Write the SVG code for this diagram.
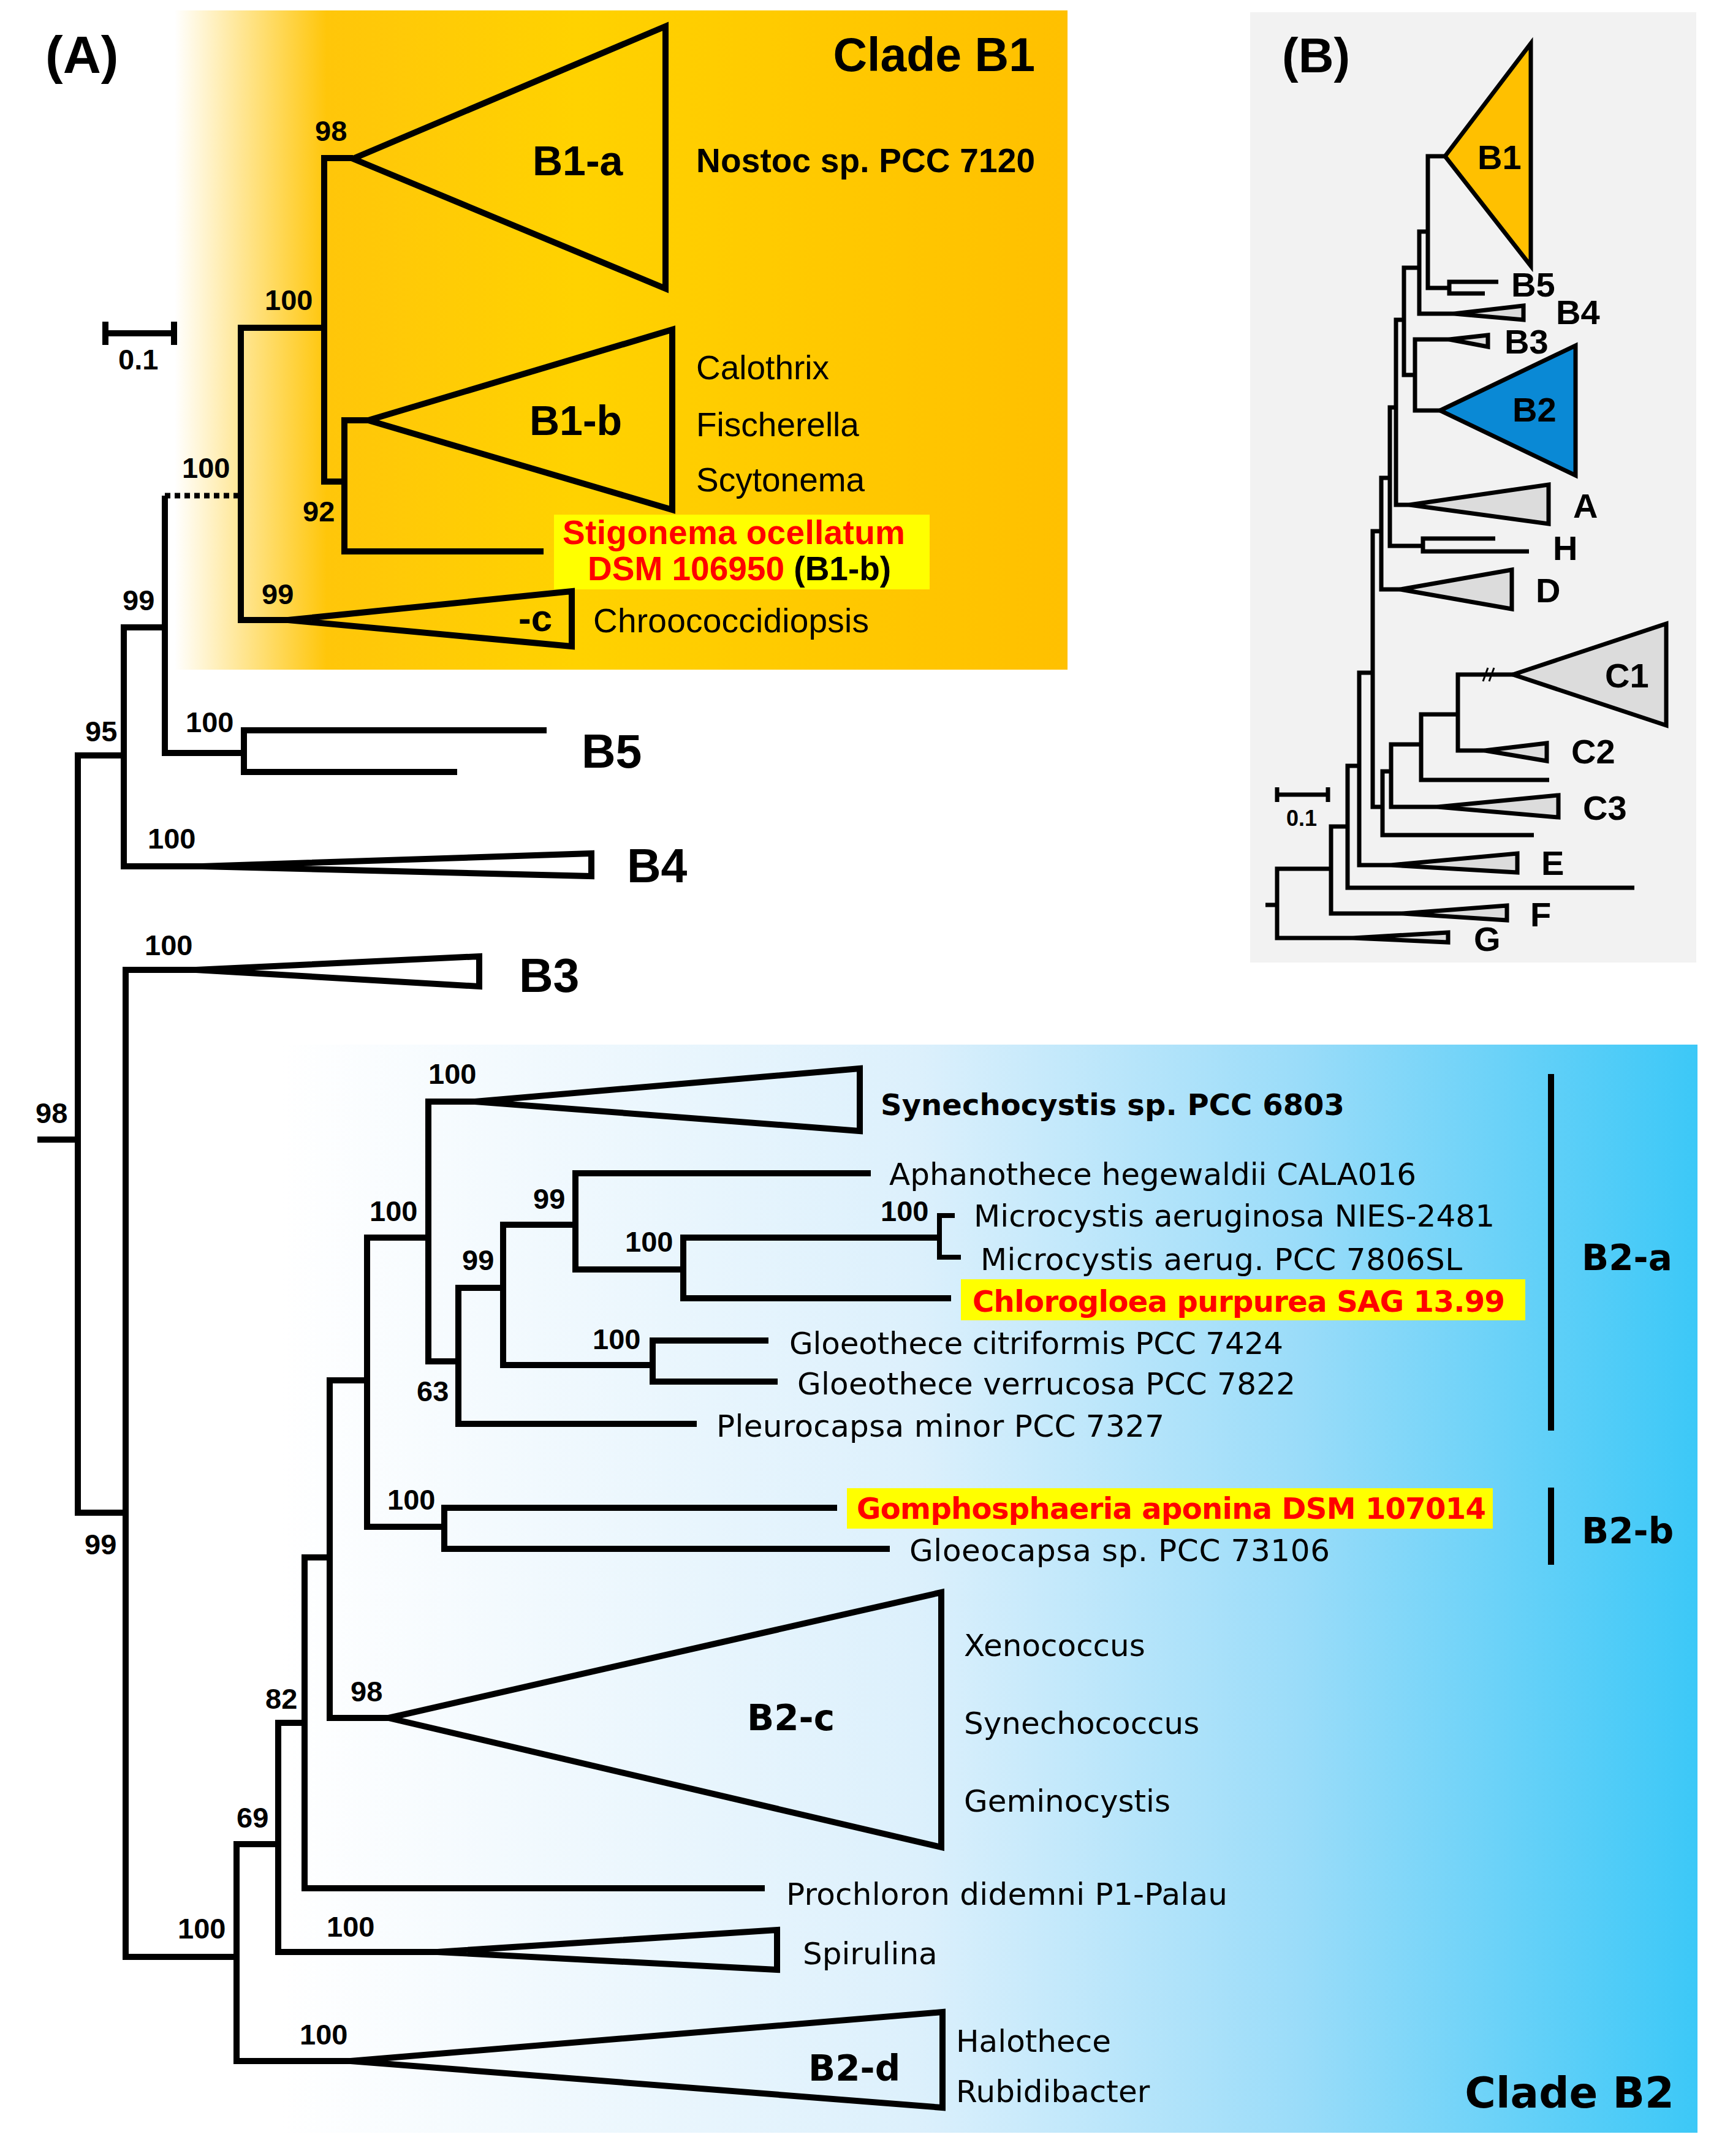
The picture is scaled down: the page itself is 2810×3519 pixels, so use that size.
<svg xmlns="http://www.w3.org/2000/svg" width="2810" height="3519" viewBox="0 0 2810 3519">
<defs>
<linearGradient id="gOr" x1="285" y1="0" x2="1742" y2="0" gradientUnits="userSpaceOnUse">
<stop offset="0" stop-color="#FFFFFF"/>
<stop offset="0.17" stop-color="#FFC60A"/>
<stop offset="0.45" stop-color="#FFD200"/>
<stop offset="1" stop-color="#FFC000"/>
</linearGradient>
<linearGradient id="gBl" x1="460" y1="0" x2="2770" y2="0" gradientUnits="userSpaceOnUse">
<stop offset="0" stop-color="#FFFFFF"/>
<stop offset="0.45" stop-color="#DCF0FC"/>
<stop offset="0.72" stop-color="#9ADCF9"/>
<stop offset="1" stop-color="#3CC8F7"/>
</linearGradient>
<style>
.br{fill:none;stroke:#000;stroke-width:10;stroke-linejoin:miter}
.thin{stroke-width:8}
.tri{fill:none;stroke:#000;stroke-width:10;stroke-linejoin:miter}
.bb{fill:none;stroke:#000;stroke-width:7;stroke-linejoin:miter}
.tb{stroke:#000;stroke-width:7;stroke-linejoin:miter}
.num{font-family:"Liberation Sans",Arial,sans-serif;font-weight:bold;font-size:47px;fill:#000}
.ta{font-family:"Liberation Sans",Arial,sans-serif;font-size:55px;fill:#000}
.tab{font-family:"Liberation Sans",Arial,sans-serif;font-weight:bold;font-size:55px;fill:#000}
.dashc{font-family:"Liberation Sans",Arial,sans-serif;font-weight:bold;font-size:62px;fill:#000}
.big{font-family:"Liberation Sans",Arial,sans-serif;font-weight:bold;font-size:77px;fill:#000}
.cl{font-family:"Liberation Sans",Arial,sans-serif;font-weight:bold;font-size:68px;fill:#000}
.tv{font-family:"DejaVu Sans",Verdana,sans-serif;font-size:50px;fill:#000}
.tvb{font-family:"DejaVu Sans",Verdana,sans-serif;font-weight:bold;font-size:48px;fill:#000}
.lv{font-family:"DejaVu Sans",Verdana,sans-serif;font-weight:bold;font-size:58px;fill:#000}
.lvc{font-family:"DejaVu Sans",Verdana,sans-serif;font-weight:bold;font-size:69px;fill:#000}
.pb{font-family:"Liberation Sans",Arial,sans-serif;font-weight:bold;font-size:56px;fill:#000}
.panel{font-family:"Liberation Sans",Arial,sans-serif;font-weight:bold;font-size:86px;fill:#000}
.panelb{font-family:"Liberation Sans",Arial,sans-serif;font-weight:bold;font-size:80px;fill:#000}
.sc{font-family:"Liberation Sans",Arial,sans-serif;font-weight:bold;font-size:36px;fill:#000}
.red{fill:#FF0000}
.hl{fill:#FFFF00}
</style>
</defs>
<rect x="0" y="0" width="2810" height="3519" fill="#FFFFFF"/>

<!-- Panel A backgrounds -->
<rect id="cladeB1-bg" x="285" y="17" width="1457" height="1076" fill="url(#gOr)"/>
<rect id="cladeB2-bg" x="460" y="1705" width="2310" height="1776" fill="url(#gBl)"/>

<text x="74" y="119" class="panel">(A)</text>
<text x="1689" y="116" class="big" text-anchor="end">Clade B1</text>
<text x="2732" y="3440" class="lvc" text-anchor="end">Clade B2</text>

<!-- scale bar A -->
<g id="scaleA">
<path class="br" d="M172,544 H284 M172,525 V563 M284,525 V563"/>
<text x="193" y="603" class="num">0.1</text>
</g>

<!-- connectors panel A -->
<g id="connectors">
<path class="br" d="M61,1860 H127"/>
<path class="br" d="M202,1233 H127 V2469 H205"/>
<path class="br" d="M269,1024 H202 V1414 H330"/>
<path class="br" d="M269,809 V1229 H398"/>
<path fill="none" stroke="#000" stroke-width="9" stroke-dasharray="9,7" d="M269,809 H393"/>
<path class="br" d="M892,1192 H398 V1260 H746"/>
<path class="br" d="M529,535 H393 V1012 H470"/>
<path class="br" d="M576,258 H529 V786 H562"/>
<path class="br" d="M601,686 H562 V900 H887"/>
<path class="br" d="M320,1583 H205 V3194 H386"/>
<path class="br" d="M454,3010 H386 V3364 H572"/>
<path class="br" d="M497,2812 H454 V3186 H714"/>
<path class="br" d="M538,2542 H497 V3082 H1248"/>
<path class="br" d="M599,2253 H538 V2804 H634"/>
<path class="br" d="M699,2020 H599 V2492 H725"/>
<path class="br" d="M775,1798 H699 V2222 H748"/>
<path class="br" d="M821,2102 H748 V2324 H1137"/>
<path class="br" d="M939,1999 H821 V2228 H1065"/>
<path class="br" d="M1421,1915 H939 V2072 H1115"/>
<path class="br" d="M1533,2020 H1115 V2119 H1552"/>
<path class="br thin" d="M1558,1984 H1533 V2052 H1568"/>
<path class="br" d="M1254,2188 H1065 V2255 H1269"/>
<path class="br" d="M1366,2461 H725 V2528 H1452"/>
</g>

<!-- support values -->
<g id="supports">
<text class="num" x="514" y="230">98</text>
<text class="num" x="432" y="506">100</text>
<text class="num" x="494" y="851">92</text>
<text class="num" x="297" y="780">100</text>
<text class="num" x="427" y="986">99</text>
<text class="num" x="200" y="996">99</text>
<text class="num" x="303" y="1195">100</text>
<text class="num" x="139" y="1210">95</text>
<text class="num" x="241" y="1385">100</text>
<text class="num" x="236" y="1559">100</text>
<text class="num" x="58" y="1833">98</text>
<text class="num" x="138" y="2537">99</text>
<text class="num" x="699" y="1769">100</text>
<text class="num" x="603" y="1993">100</text>
<text class="num" x="870" y="1973">99</text>
<text class="num" x="1437" y="1993">100</text>
<text class="num" x="754" y="2073">99</text>
<text class="num" x="1020" y="2043">100</text>
<text class="num" x="967" y="2202">100</text>
<text class="num" x="680" y="2287">63</text>
<text class="num" x="632" y="2464">100</text>
<text class="num" x="572" y="2777">98</text>
<text class="num" x="433" y="2789">82</text>
<text class="num" x="386" y="2983">69</text>
<text class="num" x="533" y="3161">100</text>
<text class="num" x="290" y="3164">100</text>
<text class="num" x="489" y="3337">100</text>
</g>

<!-- Clade B1 leaves -->
<g id="B1a">
<polygon class="tri" points="576,259 1086,43 1086,471"/>
<text class="cl" x="869" y="286">B1-a</text>
<text class="tab" x="1136" y="281" textLength="553">Nostoc sp. PCC 7120</text>
</g>
<g id="B1b">
<polygon class="tri" points="601,686 1097,538 1097,832"/>
<text class="cl" x="864" y="710">B1-b</text>
<text class="ta" x="1136" y="619">Calothrix</text>
<text class="ta" x="1136" y="712">Fischerella</text>
<text class="ta" x="1136" y="802">Scytonema</text>
</g>
<g id="stigonema">
<rect class="hl" x="904" y="840" width="613" height="122"/>
<text class="tab red" x="918" y="888" textLength="559">Stigonema ocellatum</text>
<text class="tab" x="959" y="947"><tspan class="red">DSM 106950</tspan> (B1-b)</text>
</g>
<g id="B1c">
<polygon class="tri" points="470,1012 933,965 933,1055"/>
<text class="dashc" x="846" y="1030">-c</text>
<text class="ta" x="968" y="1032" textLength="450">Chroococcidiopsis</text>
</g>
<g id="B5">
<text class="big" x="949" y="1253">B5</text>
</g>
<g id="B4">
<polygon class="tri" points="330,1414 965,1393 965,1430"/>
<text class="big" x="1023" y="1440">B4</text>
</g>
<g id="B3">
<polygon class="tri" points="320,1583 782,1561 782,1610"/>
<text class="big" x="847" y="1619">B3</text>
</g>

<!-- Clade B2 leaves -->
<g id="synechocystis">
<polygon class="tri" points="775,1798 1403,1744 1403,1846"/>
<text class="tvb" x="1437" y="1820" textLength="757">Synechocystis sp. PCC 6803</text>
</g>
<g id="aphanothece"><text class="tv" x="1451" y="1934" textLength="860">Aphanothece hegewaldii CALA016</text></g>
<g id="microcystis1"><text class="tv" x="1589" y="2002" textLength="850">Microcystis aeruginosa NIES-2481</text></g>
<g id="microcystis2"><text class="tv" x="1600" y="2073" textLength="786">Microcystis aerug. PCC 7806SL</text></g>
<g id="chlorogloea">
<rect class="hl" x="1568" y="2088" width="921" height="67"/>
<text class="tvb red" x="1587" y="2141" textLength="869">Chlorogloea purpurea SAG 13.99</text>
</g>
<g id="gloeo1"><text class="tv" x="1288" y="2210" textLength="806">Gloeothece citriformis PCC 7424</text></g>
<g id="gloeo2"><text class="tv" x="1301" y="2276" textLength="813">Gloeothece verrucosa PCC 7822</text></g>
<g id="pleurocapsa"><text class="tv" x="1169" y="2345" textLength="731">Pleurocapsa minor PCC 7327</text></g>
<g id="gomphosphaeria">
<rect class="hl" x="1382" y="2429" width="1054" height="66"/>
<text class="tvb red" x="1398" y="2479" textLength="1027">Gomphosphaeria aponina DSM 107014</text>
</g>
<g id="gloeocapsa"><text class="tv" x="1484" y="2548" textLength="686">Gloeocapsa sp. PCC 73106</text></g>
<g id="B2c">
<polygon class="tri" points="634,2804 1536,2599 1536,3015"/>
<text class="lv" x="1219" y="2824">B2-c</text>
<text class="tv" x="1573" y="2703">Xenococcus</text>
<text class="tv" x="1573" y="2830">Synechococcus</text>
<text class="tv" x="1573" y="2957">Geminocystis</text>
</g>
<g id="prochloron"><text class="tv" x="1283" y="3109" textLength="720">Prochloron didemni P1-Palau</text></g>
<g id="spirulina">
<polygon class="tri" points="714,3186 1268,3150 1268,3215"/>
<text class="tv" x="1310" y="3206">Spirulina</text>
</g>
<g id="B2d">
<polygon class="tri" points="572,3364 1538,3284 1538,3440"/>
<text class="lv" x="1319" y="3396">B2-d</text>
<text class="tv" x="1560" y="3349">Halothece</text>
<text class="tv" x="1560" y="3431">Rubidibacter</text>
</g>
<g id="B2a-bar">
<path fill="none" stroke="#000" stroke-width="10" d="M2531,1753 V2335"/>
<text class="lv" x="2581" y="2073">B2-a</text>
</g>
<g id="B2b-bar">
<path fill="none" stroke="#000" stroke-width="10" d="M2531,2428 V2554"/>
<text class="lv" x="2581" y="2519">B2-b</text>
</g>

<!-- Panel B -->
<g id="panelB">
<rect x="2040" y="20" width="728" height="1551" fill="#F2F2F2"/>
<text x="2092" y="118" class="panelb">(B)</text>
<g id="connectorsB">
<path class="bb" d="M2065,1477 H2084"/>
<path class="bb" d="M2172,1418 H2084 V1531 H2208"/>
<path class="bb" d="M2199,1349 H2172 V1491 H2289"/>
<path class="bb" d="M2218,1250 H2199 V1449 H2667"/>
<path class="bb" d="M2240,1098 H2218 V1412 H2270"/>
<path class="bb" d="M2254,867 H2240 V1317 H2256"/>
<path class="bb" d="M2270,1259 H2256 V1363 H2503"/>
<path class="bb" d="M2319,1215 H2270 V1317 H2346"/>
<path class="bb" d="M2379,1166 H2319 V1273 H2528"/>
<path class="bb" d="M2469,1101 H2379 V1225 H2423"/>
<path class="bb" d="M2268,780 H2254 V962 H2285"/>
<path class="bb" d="M2278,665 H2268 V891 H2322"/>
<path class="bb" d="M2291,522 H2278 V824 H2300"/>
<path class="bb" d="M2316,437 H2291 V612 H2309"/>
<path class="bb" d="M2365,554 H2309 V670 H2350"/>
<path class="bb" d="M2330,378 H2316 V512 H2373"/>
<path class="bb" d="M2358,255 H2330 V470 H2365"/>
<path fill="none" stroke="#000" stroke-width="3" d="M2420,1112 L2428,1090 M2430,1112 L2438,1090"/>
</g>
<g id="nB1"><polygon class="tb" fill="#FFC000" points="2358,255 2498,71 2498,434"/><text class="pb" x="2411" y="276">B1</text></g>
<g id="nB5"><path class="bb" d="M2445,460 H2365 V479 H2423"/><text class="pb" x="2466" y="484">B5</text></g>
<g id="nB4"><polygon class="tb" fill="#DCDCDC" points="2373,512 2486,499 2486,522"/><text class="pb" x="2539" y="529">B4</text></g>
<g id="nB3"><polygon class="tb" fill="#DCDCDC" points="2365,554 2428,547 2428,566"/><text class="pb" x="2455" y="577">B3</text></g>
<g id="nB2"><polygon class="tb" fill="#0A89D5" points="2350,670 2571,564 2571,776"/><text class="pb" x="2468" y="688">B2</text></g>
<g id="nA"><polygon class="tb" fill="#DCDCDC" points="2300,824 2527,791 2527,855"/><text class="pb" x="2567" y="845">A</text></g>
<g id="nH"><path class="bb" d="M2440,879 H2322 V900 H2495"/><text class="pb" x="2534" y="914">H</text></g>
<g id="nD"><polygon class="tb" fill="#DCDCDC" points="2285,962 2467,930 2467,994"/><text class="pb" x="2506" y="983">D</text></g>
<g id="nC1"><polygon class="tb" fill="#DCDCDC" points="2469,1101 2719,1018 2719,1184"/><text class="pb" x="2619" y="1122">C1</text></g>
<g id="nC2"><polygon class="tb" fill="#DCDCDC" points="2423,1225 2524,1213 2524,1242"/><text class="pb" x="2564" y="1246">C2</text></g>
<g id="nC3"><polygon class="tb" fill="#DCDCDC" points="2346,1317 2543,1298 2543,1334"/><text class="pb" x="2583" y="1338">C3</text></g>
<g id="nE"><polygon class="tb" fill="#DCDCDC" points="2270,1412 2476,1393 2476,1424"/><text class="pb" x="2515" y="1428">E</text></g>
<g id="nF"><polygon class="tb" fill="#DCDCDC" points="2289,1491 2459,1478 2459,1502"/><text class="pb" x="2497" y="1512">F</text></g>
<g id="nG"><polygon class="tb" fill="#DCDCDC" points="2208,1531 2363,1522 2363,1538"/><text class="pb" x="2405" y="1552">G</text></g>
<g id="scaleB">
<path class="bb" d="M2084,1297 H2167 M2084,1285 V1309 M2167,1285 V1309"/>
<text x="2099" y="1348" class="sc">0.1</text>
</g>
</g>
</svg>
